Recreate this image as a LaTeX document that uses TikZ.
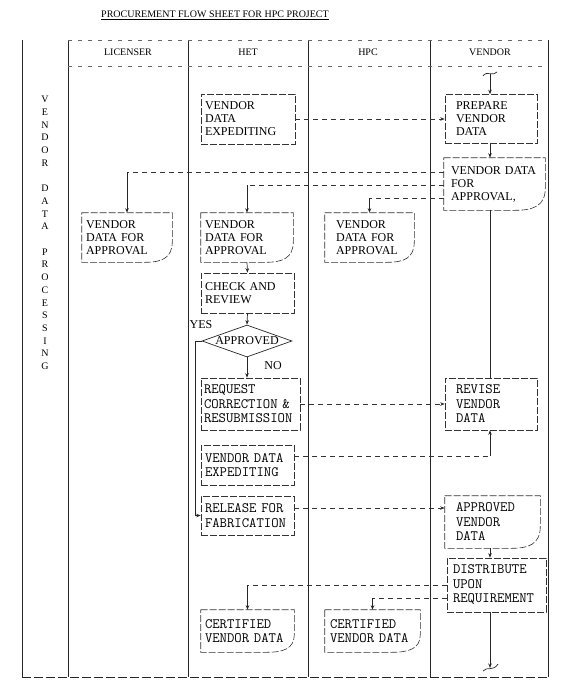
\documentclass[tikz,border=0pt]{standalone}
\usepackage{fontspec}
\setmainfont{Liberation Serif}
\usetikzlibrary{arrows.meta,calc,shapes.geometric}
\newcommand\serifsz{\fontsize{12}{13}\selectfont}
\newcommand\monosz{\fontsize{14.3}{14.5}\selectfont\ttfamily}
\newcommand\docline[1]{%
 \draw[boxline] let \p1=(#1.north west), \p2=(#1.south east), \n1={\x2-\x1}, \n2={\y1-\y2} in
  (\p1) -- (\x2,\y1) -- (\x2,{\y2+0.42*\n2}) .. controls (\x2,{\y2+0.08*\n2}) and ({\x2-0.12*\n1},\y2) .. ({\x2-0.3*\n1},\y2) -- (\x1,\y2) -- cycle;}
\tikzset{
 lane/.style={line width=0.7pt, draw=black!85},
 hdrline/.style={line width=0.5pt, draw=black!60, dash pattern=on 4pt off 6pt},
 boxline/.style={line width=0.6pt, draw=black!80, dash pattern=on 7pt off 2pt},
 sbox/.style={boxline, rectangle, inner xsep=4pt, inner ysep=0pt, align=left, font=\serifsz},
 mbox/.style={boxline, rectangle, inner xsep=3pt, inner ysep=0pt, align=left, font=\monosz},
 sdoc/.style={sbox, draw=none},
 mdoc/.style={mbox, draw=none},
 arr/.style={lane, -{Stealth[length=4.5pt,width=3.5pt]}},
 dconn/.style={line width=0.6pt, draw=black!80, dash pattern=on 5pt off 4pt},
 darr/.style={dconn, -{Stealth[length=4.5pt,width=3.5pt]}},
 lbl/.style={font=\serifsz, inner sep=0pt},
 hdr/.style={font=\fontsize{10}{12}\selectfont, inner sep=0pt}
}
\begin{document}
\begin{tikzpicture}[x=1pt,y=-1pt]
\useasboundingbox (0,0) rectangle (564,686);
% title
\node[hdr] (title) at (215,15) {\underline{PROCUREMENT FLOW SHEET FOR HPC PROJECT}};
% lanes
\foreach \xx in {22,68,188,308,430,548} \draw[lane] (\xx,40) -- (\xx,677);
\draw[hdrline] (68,40) -- (548,40);
\draw[hdrline] (68,66) -- (548,66);
\draw[lane, dash pattern=on 9pt off 3pt] (22,677) -- (548,677);
% headers
\node[hdr] (hlic) at (128,52) {LICENSER};
\node[hdr] (hhet) at (248,52) {HET};
\node[hdr] (hhpc) at (368,52) {HPC};
\node[hdr] (hven) at (490,52) {VENDOR};
% side text
\node[font=\fontsize{10}{12.7}\selectfont, align=center, inner sep=0pt] (side) at (45,233)
 {V\\E\\N\\D\\O\\R\\\mbox{}\\D\\A\\T\\A\\\mbox{}\\P\\R\\O\\C\\E\\S\\S\\I\\N\\G};
% boxes
\node[sbox, minimum width=94pt, minimum height=50pt, text width=86pt] (exp1) at (248,119) {VENDOR\\DATA\\EXPEDITING};
\node[sbox, inner xsep=11pt, minimum width=92pt, minimum height=49pt, text width=70pt] (prep) at (491,119) {PREPARE\\VENDOR\\DATA};
\node[sdoc, inner xsep=7pt, minimum width=101pt, minimum height=52pt, text width=87pt] (vapp) at (494.5,184) {VENDOR DATA\\FOR\\APPROVAL,};
\docline{vapp}
\node[sdoc, minimum width=90pt, minimum height=49pt, text width=82pt] (lic) at (127,237.5) {VENDOR\\DATA FOR\\APPROVAL};
\docline{lic}
\node[sdoc, minimum width=92pt, minimum height=49pt, text width=84pt] (hetdoc) at (247,237.5) {VENDOR\\DATA FOR\\APPROVAL};
\docline{hetdoc}
\node[sdoc, inner xsep=11pt, minimum width=89pt, minimum height=49pt, text width=67pt] (hpcdoc) at (369.5,237.5) {VENDOR\\DATA FOR\\APPROVAL};
\docline{hpcdoc}
\node[sbox, minimum width=93pt, minimum height=40pt, text width=85pt] (check) at (247.5,293) {CHECK AND\\REVIEW};
\node[lane, diamond, minimum width=90pt, minimum height=32pt, inner sep=0pt, font=\serifsz] (appr) at (247,341) {\makebox[0pt]{APPROVED}};
\node[lbl] (yes) at (201,325) {YES};
\node[lbl] (no) at (273,366) {NO};
\node[mbox, minimum width=99pt, minimum height=52pt, text width=93pt] (req) at (250.5,404) {REQUEST\\CORRECTION \&\\RESUBMISSION};
\node[mbox, inner xsep=11pt, minimum width=92pt, minimum height=52pt, text width=70pt] (rev) at (491,404) {REVISE\\VENDOR\\DATA};
\node[mbox, inner xsep=4pt, minimum width=93pt, minimum height=40pt, text width=85pt] (exp2) at (247.5,465) {VENDOR DATA\\EXPEDITING};
\node[mbox, inner xsep=4pt, minimum width=93pt, minimum height=39pt, text width=85pt] (rel) at (247.5,515.5) {RELEASE FOR\\FABRICATION};
\node[mdoc, inner xsep=11pt, minimum width=95pt, minimum height=52pt, text width=73pt] (av) at (492.5,522) {APPROVED\\VENDOR\\DATA};
\docline{av}
\node[mbox, inner xsep=6pt, minimum width=99pt, minimum height=54pt, text width=87pt] (dist) at (496.5,585) {DISTRIBUTE\\UPON\\REQUIREMENT};
\node[mdoc, inner xsep=4pt, minimum width=93pt, minimum height=42pt, text width=85pt] (cert1) at (247.5,631) {CERTIFIED\\VENDOR DATA};
\docline{cert1}
\node[mdoc, inner xsep=5pt, minimum width=95pt, minimum height=42pt, text width=85pt] (cert2) at (372.5,631) {CERTIFIED\\VENDOR DATA};
\docline{cert2}
% helper coordinates
\coordinate (vx) at (490,0);
\coordinate (vtop) at (490,74);
\coordinate (vbot) at (490,668);
\coordinate (ya) at (0,172);
\coordinate (yb) at (0,185);
\coordinate (yc) at (0,198);
\coordinate (ye) at (0,456);
\coordinate (yr) at (0,508);
\coordinate (yd1) at (0,585);
\coordinate (yd2) at (0,598);
% squiggles
\draw[lane] ($(vtop)+(-7,2)$) .. controls ($(vtop)+(-3,-4)$) and ($(vtop)+(3,3)$) .. ($(vtop)+(7,-2)$);
\draw[lane] ($(vbot)+(-7,3)$) .. controls ($(vbot)+(-3,-2)$) and ($(vbot)+(3,4)$) .. ($(vbot)+(8,-4)$);
% connectors
\draw[arr] (vtop) -- (prep.north -| vx);
\draw[darr] (exp1.east) -- (prep.west);
\draw[arr] (prep.south -| vx) -- (vapp.north -| vx);
\draw[dconn] (vapp.west |- ya) -- (lic.north |- ya);
\draw[arr] (lic.north |- ya) -- (lic.north);
\draw[dconn] (vapp.west |- yb) -- (hetdoc.north |- yb);
\draw[arr] (hetdoc.north |- yb) -- (hetdoc.north);
\draw[dconn] (vapp.west |- yc) -- (hpcdoc.north |- yc);
\draw[arr] (hpcdoc.north |- yc) -- (hpcdoc.north);
\draw[lane] (vapp.south -| vx) -- (rev.north -| vx);
\draw[arr] (hetdoc.south) -- (check.north);
\draw[arr] (check.south) -- (appr.north);
\draw[arr] (appr.west) -- ++(-6,0) |- (rel.west);
\draw[arr] (appr.south) -- (req.north -| appr.south);
\draw[darr] (req.east) -- (rev.west);
\draw[dconn] (exp2.east |- ye) -- (ye -| vx);
\draw[arr] (ye -| vx) -- (rev.south -| vx);
\draw[darr] (rel.east |- yr) -- (av.west |- yr);
\draw[arr] (av.south -| vx) -- (dist.north -| vx);
\draw[dconn] (dist.west |- yd1) -- (cert1.north |- yd1);
\draw[arr] (cert1.north |- yd1) -- (cert1.north);
\draw[dconn] (dist.west |- yd2) -- (cert2.north |- yd2);
\draw[arr] (cert2.north |- yd2) -- (cert2.north);
\draw[arr] (dist.south -| vx) -- (vbot);
\end{tikzpicture}
\end{document}
